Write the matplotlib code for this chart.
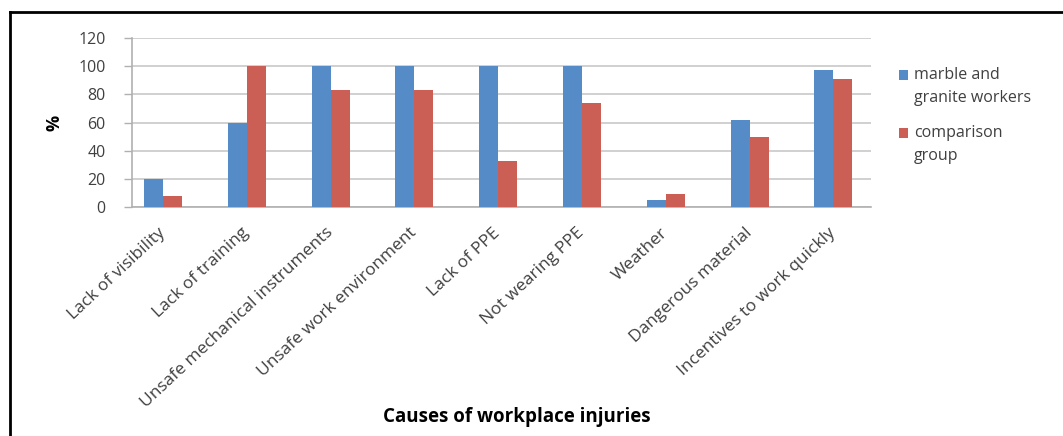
import numpy as np
import matplotlib.pyplot as plt
from matplotlib.lines import Line2D

plt.rcParams['font.family'] = ['Open Sans', 'DejaVu Sans']

# Data
causes = ["Lack of visibility", "Lack of training", "Unsafe mechanical instruments",
          "Unsafe work environment", "Lack of PPE", "Not wearing PPE", "Weather",
          "Dangerous material", "Incentives to work quickly"]
workers = [20, 60, 100, 100, 100, 100, 5, 62, 97]
comparison = [8, 100, 83, 83, 33, 74, 9, 50, 91]

blue = "#558CC8"
red = "#CC5F55"

fig = plt.figure(figsize=(10.63, 4.36), dpi=100)
ax = fig.add_axes([0.1242, 0.5252, 0.6952, 0.3876])

x = np.arange(len(causes))
w = 0.227
ax.bar(x - w / 2, workers, w, color=blue, label="marble and\ngranite workers", zorder=3)
ax.bar(x + w / 2, comparison, w, color=red, label="comparison\ngroup", zorder=3)

ax.set_xlim(-0.37, 8.45)
ax.set_ylim(0, 120)
ax.set_yticks(range(0, 121, 20))
ax.yaxis.grid(True, color="#c8c8c8", linewidth=1.2, zorder=0)
ax.tick_params(axis="y", labelsize=11.5, labelcolor="#404040", length=6, width=1,
               color="#b0b0b0", pad=13)
ax.tick_params(axis="x", length=0, labelsize=12.5, labelcolor="#404040", pad=17)

for s in ["top", "right"]:
    ax.spines[s].set_visible(False)
for s in ["left", "bottom"]:
    ax.spines[s].set_color("#b0b0b0")
    ax.spines[s].set_linewidth(1.2)

ax.set_xticks(x)
ax.set_xticklabels(causes, rotation=43, ha="right", va="center", rotation_mode="anchor")

fig.text(55 / 1063, 1 - 123 / 436, "%", fontsize=13, fontweight="bold", rotation=90,
         ha="center", va="center")
fig.text(517 / 1063, 1 - 417 / 436, "Causes of workplace injuries", fontsize=13.5,
         fontweight="bold", ha="center", va="center")

leg = fig.legend(loc="upper left", bbox_to_anchor=(0.832, 0.88), frameon=False,
                 fontsize=11.5, handlelength=0.55, handleheight=0.55, handletextpad=0.4,
                 labelspacing=1.2, labelcolor="#404040")
for t in leg.get_texts():
    t.set_linespacing(1.6)
# markers sit beside the first line of each entry
for h in leg.legend_handles:
    h.set_y(h.get_y() + 8.5)

# frame visible at top and left of the figure
fig.add_artist(Line2D([10 / 1063, 1.0], [1 - 12 / 436, 1 - 12 / 436], color="black", linewidth=2))
fig.add_artist(Line2D([10 / 1063, 10 / 1063], [0, 1 - 12 / 436], color="black", linewidth=2))

fig.savefig("out.png", dpi=100)
